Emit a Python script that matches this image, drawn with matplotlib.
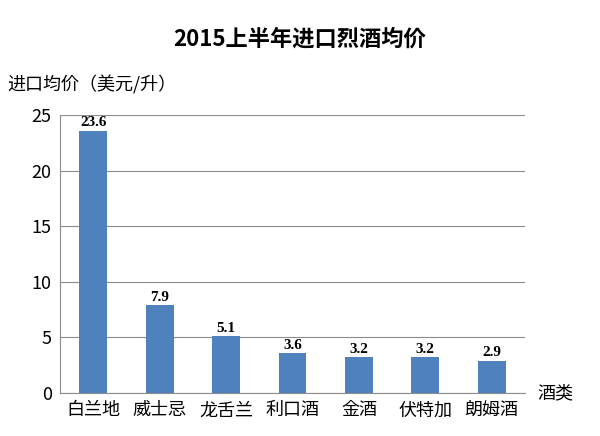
import matplotlib
matplotlib.use("Agg")
import matplotlib.pyplot as plt

categories = ["白兰地", "威士忌", "龙舌兰", "利口酒", "金酒", "伏特加", "朗姆酒"]
values = [23.6, 7.9, 5.1, 3.6, 3.2, 3.2, 2.9]
yticks = [0, 5, 10, 15, 20, 25]

cjk = ["Noto Sans CJK SC", "Noto Sans CJK JP", "Noto Sans CJK TC", "Noto Sans CJK KR", "DejaVu Sans"]
plt.rcParams["font.family"] = "sans-serif"
plt.rcParams["font.sans-serif"] = cjk
fig = plt.figure(figsize=(6, 4.36), dpi=100)
ax = fig.add_axes([0.1, 0.0986, 0.775, 0.637])
x = range(len(categories))
ax.bar(x, values, width=0.42, color="#4f81bd", zorder=3)
for xi, v in zip(x, values):
    ax.text(xi, v + 0.12, f"{v}", ha="center", va="bottom", fontsize=11,
            fontweight="bold", family="Liberation Serif")
ax.set_xlim(-0.5, len(categories) - 0.5)
ax.set_ylim(0, 25)
ax.set_yticks(yticks)
ax.set_yticklabels([str(t) for t in yticks], fontsize=13)
ax.set_xticks(list(x))
ax.set_xticklabels(categories, fontsize=13)
ax.tick_params(axis="both", length=0, pad=6)
ax.grid(axis="y", color="#8c8c8c", linewidth=0.8, zorder=0)
for s in ["top", "right"]:
    ax.spines[s].set_visible(False)
ax.spines["left"].set_color("#8c8c8c")
ax.spines["bottom"].set_color("#8c8c8c")
fig.text(0.5, 0.91, "2015上半年进口烈酒均价", ha="center", va="center",
         fontsize=16, fontweight="bold")
fig.text(0.012, 0.805, "进口均价（美元/升）", ha="left", va="center", fontsize=13)
fig.text(0.925, 0.098, "酒类", ha="center", va="center", fontsize=13)
fig.savefig("out.png", dpi=100)
